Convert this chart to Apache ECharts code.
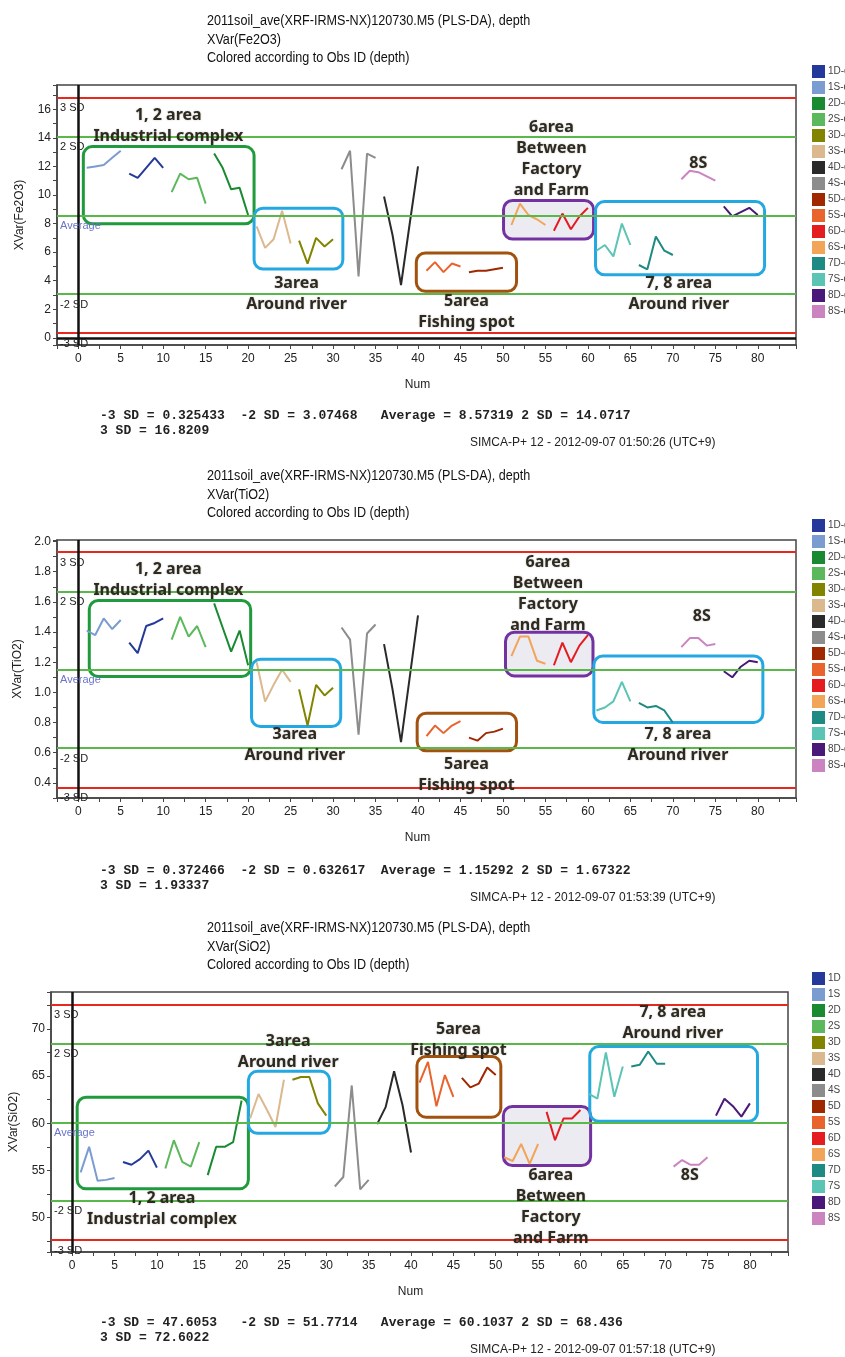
<!DOCTYPE html>
<html>
<head>
<meta charset="utf-8">
<script src="https://cdn.jsdelivr.net/npm/echarts@6/dist/echarts.min.js"></script>
<style>
  html, body { margin: 0; padding: 0; background: #fff; }
  #chart { width: 845px; height: 1357px; }
</style>
</head>
<body>
<div id="chart"></div>
<script>
// observation groups in Num order (5 obs each: 1..80)
const groups = ['1S', '1D', '2S', '2D', '3S', '3D', '4S', '4D', '5S', '5D', '6S', '6D', '7S', '7D', '8S', '8D'];
const legendNames = ['1D', '1S', '2D', '2S', '3D', '3S', '4D', '4S', '5D', '5S', '6D', '6S', '7D', '7S', '8D', '8S'];
const groupColors = {
  '1D': '#24399a', '1S': '#7b9cd0', '2D': '#1a8a32', '2S': '#5cb85c',
  '3D': '#828400', '3S': '#dcb88e', '4D': '#2a2a2a', '4S': '#8c8c8c',
  '5D': '#a02800', '5S': '#e8642c', '6D': '#e41c20', '6S': '#f2a458',
  '7D': '#1e8a84', '7S': '#5cc4b4', '8D': '#4a1878', '8S': '#cc84c0'
};

// one row per group (same order as groups)
const fe2o3 = [
  [11.9, 12.0, 12.1, 12.6, 13.1],
  [11.5, 11.2, 11.9, 12.6, 11.9],
  [10.2, 11.5, 11.1, 11.2, 9.4],
  [12.9, 11.9, 10.4, 10.5, 8.6],
  [7.8, 6.3, 6.9, 8.9, 6.6],
  [6.8, 5.2, 7.0, 6.4, 6.9],
  [11.8, 13.1, 4.3, 12.9, 12.6],
  [9.9, 7.2, 3.7, 7.9, 12.0],
  [4.7, 5.3, 4.6, 5.2, 5.0],
  [4.6, 4.7, 4.7, 4.8, 4.9],
  [7.9, 9.4, 8.6, 8.3, 7.9],
  [7.5, 8.7, 7.6, 8.5, 9.1],
  [6.1, 6.5, 5.7, 8.0, 6.5],
  [5.1, 4.8, 7.1, 6.1, 5.8],
  [11.1, 11.7, 11.6, 11.3, 11.0],
  [9.2, 8.5, 8.8, 9.1, 8.6]
];
const tio2 = [
  [1.41, 1.38, 1.49, 1.42, 1.48],
  [1.33, 1.26, 1.44, 1.46, 1.49],
  [1.35, 1.50, 1.37, 1.44, 1.30],
  [1.59, 1.43, 1.27, 1.41, 1.18],
  [1.20, 0.94, 1.05, 1.15, 1.07],
  [1.02, 0.78, 1.05, 0.98, 1.03],
  [1.43, 1.35, 0.72, 1.39, 1.45],
  [1.32, 1.02, 0.67, 1.09, 1.51],
  [0.71, 0.78, 0.73, 0.78, 0.81],
  [0.70, 0.68, 0.73, 0.74, 0.76],
  [1.24, 1.37, 1.37, 1.21, 1.19],
  [1.18, 1.33, 1.20, 1.31, 1.38],
  [0.88, 0.90, 0.94, 1.07, 0.94],
  [0.93, 0.90, 0.91, 0.88, 0.80],
  [1.30, 1.36, 1.36, 1.31, 1.32],
  [1.14, 1.10, 1.17, 1.21, 1.20]
];
const sio2 = [
  [54.8, 57.5, 53.9, 54.0, 54.2],
  [55.9, 55.6, 56.2, 57.1, 55.3],
  [55.2, 58.2, 55.9, 55.4, 58.0],
  [54.5, 57.5, 57.5, 58.0, 62.4],
  [60.5, 63.1, 61.4, 59.6, 64.6],
  [64.6, 64.9, 64.9, 62.1, 60.8],
  [53.3, 54.3, 64.0, 53.0, 54.0],
  [59.9, 61.7, 65.5, 61.9, 56.9],
  [64.3, 66.5, 61.8, 65.1, 62.8],
  [64.8, 63.8, 64.2, 65.9, 65.1],
  [56.4, 56.0, 57.8, 55.7, 57.8],
  [61.2, 58.2, 60.5, 60.5, 61.4],
  [63.1, 62.6, 67.5, 62.8, 66.0],
  [66.0, 66.2, 67.6, 66.3, 66.3],
  [55.4, 56.1, 55.6, 55.6, 56.4],
  [60.8, 62.6, 61.8, 60.7, 62.1]
];

// -3 SD, -2 SD, Average, 2 SD, 3 SD
const fe2o3Limits = [0.325433, 3.07468, 8.57319, 14.0717, 16.8209];
const tio2Limits = [0.372466, 0.632617, 1.15292, 1.67322, 1.93337];
const sio2Limits = [47.6053, 51.7714, 60.1037, 68.436, 72.6022];

const varNames = ['Fe2O3', 'TiO2', 'SiO2'];
const stamps = ['01:50:26', '01:53:39', '01:57:18'];

const NARROW = '"Liberation Sans Narrow", "Liberation Sans", Arial, sans-serif';
const isStep = (v, s) => Math.abs(v / s - Math.round(v / s)) < 1e-6;

// layout per panel
const panels = [
  { values: fe2o3, limits: fe2o3Limits, grid: { left: 57, top: 85, width: 739, height: 260 },
    yMin: -0.5, yMax: 17.7, yTick: 1, yLab: v => (v >= 0 && isStep(v, 2)) ? String(Math.round(v)) : '',
    zeroLine: true, legendTop: 65, legendCut: true },
  { values: tio2, limits: tio2Limits, grid: { left: 57, top: 540, width: 739, height: 258 },
    yMin: 0.3, yMax: 2.01, yTick: 0.1, yLab: v => (v > 0.35 && isStep(v, 0.2)) ? v.toFixed(1) : '',
    zeroLine: false, legendTop: 519, legendCut: true },
  { values: sio2, limits: sio2Limits, grid: { left: 49, top: 992, width: 739, height: 260 },
    yMin: 46.36, yMax: 73.9, yTick: 2.5, yLab: v => isStep(v, 5) ? String(Math.round(v)) : '',
    zeroLine: false, legendTop: 972, legendCut: false }
];

// hand-drawn annotations, in data coordinates of each panel
const annoBoxes = [
  [
    { x0: 0.6, x1: 20.7, y0: 7.99, y1: 13.39, color: '#1f9a3c' },
    { x0: 20.7, x1: 31.15, y0: 4.82, y1: 9.08, color: '#24a8e2' },
    { x0: 39.8, x1: 51.6, y0: 3.26, y1: 5.94, color: '#a0520e' },
    { x0: 50.07, x1: 60.67, y0: 6.92, y1: 9.62, color: '#7232a0', fill: 'rgba(222,218,232,0.55)' },
    { x0: 60.9, x1: 80.8, y0: 4.42, y1: 9.55, color: '#24a8e2' }
  ],
  [
    { x0: 1.3, x1: 20.3, y0: 1.105, y1: 1.609, color: '#1f9a3c' },
    { x0: 20.4, x1: 30.9, y0: 0.774, y1: 1.219, color: '#24a8e2' },
    { x0: 39.9, x1: 51.6, y0: 0.613, y1: 0.862, color: '#a0520e' },
    { x0: 50.3, x1: 60.6, y0: 1.109, y1: 1.399, color: '#7232a0', fill: 'rgba(222,218,232,0.55)' },
    { x0: 60.7, x1: 80.6, y0: 0.801, y1: 1.241, color: '#24a8e2' }
  ],
  [
    { x0: 0.59, x1: 20.8, y0: 53.05, y1: 62.75, color: '#1f9a3c' },
    { x0: 20.8, x1: 30.4, y0: 58.94, y1: 65.5, color: '#24a8e2' },
    { x0: 40.7, x1: 50.6, y0: 60.64, y1: 67.07, color: '#a0520e' },
    { x0: 50.9, x1: 61.2, y0: 55.52, y1: 61.77, color: '#7232a0', fill: 'rgba(222,218,232,0.55)' },
    { x0: 61.1, x1: 80.9, y0: 60.21, y1: 68.12, color: '#24a8e2' }
  ]
];
const annoTexts = [
  [
    { x: 10.6, y: 14.85, text: '1, 2 area\nIndustrial complex' },
    { x: 25.7, y: 3.06, text: '3area\nAround river' },
    { x: 45.7, y: 1.82, text: '5area\nFishing spot' },
    { x: 55.7, y: 12.5, text: '6area\nBetween\nFactory\nand Farm' },
    { x: 70.7, y: 3.06, text: '7, 8 area\nAround river' },
    { x: 73.0, y: 12.23, text: '8S' }
  ],
  [
    { x: 10.6, y: 1.742, text: '1, 2 area\nIndustrial complex' },
    { x: 25.5, y: 0.652, text: '3area\nAround river' },
    { x: 45.7, y: 0.456, text: '5area\nFishing spot' },
    { x: 55.3, y: 1.650, text: '6area\nBetween\nFactory\nand Farm' },
    { x: 70.6, y: 0.652, text: '7, 8 area\nAround river' },
    { x: 73.4, y: 1.501, text: '8S' }
  ],
  [
    { x: 10.6, y: 50.88, text: '1, 2 area\nIndustrial complex' },
    { x: 25.5, y: 67.52, text: '3area\nAround river' },
    { x: 45.6, y: 68.79, text: '5area\nFishing spot' },
    { x: 56.5, y: 51.12, text: '6area\nBetween\nFactory\nand Farm' },
    { x: 70.9, y: 70.65, text: '7, 8 area\nAround river' },
    { x: 72.9, y: 54.46, text: '8S' }
  ]
];

const chart = echarts.init(document.getElementById('chart'), null, { renderer: 'canvas' });

const grids = [], xAxes = [], yAxes = [], series = [], legends = [], statics = [];

panels.forEach((p, pi) => {
  grids.push(Object.assign({ show: true, borderColor: '#444', borderWidth: 1.5, containLabel: false }, p.grid));

  xAxes.push({
    type: 'value', gridIndex: pi, min: -2.5, max: 84.5, minInterval: 2.5, maxInterval: 2.5,
    name: 'Num', nameLocation: 'middle', nameGap: 34,
    nameTextStyle: { fontSize: 12, color: '#222', fontFamily: NARROW, padding: [0, 18, 0, 0] },
    splitLine: { show: false },
    axisLine: { show: true, onZero: false, lineStyle: { color: '#444', width: 1.5 } },
    axisTick: { show: true, length: 4, lineStyle: { color: '#444' } },
    axisLabel: { fontSize: 12, color: '#222', fontFamily: NARROW, margin: 8,
      formatter: v => (v >= 0 && v <= 80 && isStep(v, 5)) ? String(Math.round(v)) : '' }
  });

  yAxes.push({
    type: 'value', gridIndex: pi, min: p.yMin, max: p.yMax, minInterval: p.yTick, maxInterval: p.yTick,
    name: 'XVar(' + varNames[pi] + ')', nameLocation: 'middle', nameGap: 31,
    nameTextStyle: { fontSize: 12, color: '#222', fontFamily: NARROW },
    splitLine: { show: false },
    axisLine: { show: true, onZero: false, lineStyle: { color: '#444', width: 1.5 } },
    axisTick: { show: true, length: 4, lineStyle: { color: '#444' } },
    axisLabel: { fontSize: 12, color: '#222', fontFamily: NARROW, margin: 6, formatter: p.yLab }
  });

  // SD limit lines and the zero axes
  const lim = p.limits;
  const red = { color: '#e8281c', width: 2, type: 'solid' };
  const green = { color: '#5ab84a', width: 2, type: 'solid' };
  const lab = (t, c) => ({ show: true, formatter: t, position: 'insideStartBottom', distance: [3, 5],
    fontSize: 11, color: c || '#222', fontFamily: NARROW });
  const lines = [
    { yAxis: lim[4], lineStyle: red, label: lab('3 SD') },
    { yAxis: lim[3], lineStyle: green, label: lab('2 SD') },
    { yAxis: lim[2], lineStyle: green, label: lab('Average', '#6a74c8') },
    { yAxis: lim[1], lineStyle: green, label: lab('-2 SD') },
    { yAxis: lim[0], lineStyle: red, label: lab('-3 SD') },
    { xAxis: 0, lineStyle: { color: '#111', width: 2.5, type: 'solid' }, label: { show: false } }
  ];
  if (p.zeroLine) lines.push({ yAxis: 0, lineStyle: { color: '#111', width: 2.5, type: 'solid' }, label: { show: false } });
  series.push({
    type: 'line', xAxisIndex: pi, yAxisIndex: pi, data: [], z: 2, silent: true,
    markLine: { symbol: ['none', 'none'], silent: true, animation: false, data: lines }
  });

  groups.forEach((g, gi) => {
    series.push({
      name: g, type: 'line', xAxisIndex: pi, yAxisIndex: pi, z: 3,
      data: p.values[gi].map((v, k) => [gi * 5 + k + 1, v]),
      showSymbol: false, symbol: 'none',
      itemStyle: { color: groupColors[g] },
      lineStyle: { color: groupColors[g], width: 2 }
    });
  });

  legends.push({
    data: legendNames, orient: 'vertical', left: 812, top: p.legendTop, padding: 0,
    itemWidth: 13, itemHeight: 13, itemGap: 3, icon: 'rect', selectedMode: false,
    formatter: p.legendCut ? (n => n + '-depth') : (n => n),
    textStyle: { fontSize: 10, color: '#444', fontFamily: NARROW, padding: [0, 0, 0, -2] }
  });

  // three-line header, slightly condensed like the SIMCA print
  statics.push({ type: 'text', x: 207, y: p.grid.top - 73, scaleX: 0.9, z: 5,
    style: { text: '2011soil_ave(XRF-IRMS-NX)120730.M5 (PLS-DA), depth\nXVar(' + varNames[pi] + ')\nColored according to Obs ID (depth)',
      font: '14px ' + NARROW, fill: '#111', lineHeight: 18.5, verticalAlign: 'top' } });

  const base = p.grid.top + 338;
  const line1 = ('-3 SD = ' + lim[0]).padEnd(18) + ('-2 SD = ' + lim[1]).padEnd(18) +
    ('Average = ' + lim[2]).padEnd(18) + '2 SD = ' + lim[3];
  statics.push({ type: 'text', x: 100, y: base, z: 5,
    style: { text: line1 + '\n3 SD = ' + lim[4], font: 'bold 13px "Liberation Mono", "DejaVu Sans Mono", monospace',
      fill: '#222', lineHeight: 15, verticalAlign: 'middle' } });
  statics.push({ type: 'text', x: 470, y: base + 20, z: 5,
    style: { text: 'SIMCA-P+ 12 - 2012-09-07 ' + stamps[pi] + ' (UTC+9)', font: '12px ' + NARROW,
      fill: '#222', verticalAlign: 'middle' } });
});

chart.setOption({
  animation: false,
  backgroundColor: '#fff',
  legend: legends,
  grid: grids,
  xAxis: xAxes,
  yAxis: yAxes,
  series: series
});

// annotations placed through the axes' own scales
const anno = [];
panels.forEach((p, pi) => {
  annoBoxes[pi].forEach(b => {
    const a = chart.convertToPixel({ gridIndex: pi }, [b.x0, b.y1]);
    const c = chart.convertToPixel({ gridIndex: pi }, [b.x1, b.y0]);
    anno.push({ type: 'rect', z: 1, silent: true,
      shape: { x: a[0], y: a[1], width: c[0] - a[0], height: c[1] - a[1], r: 9 },
      style: { fill: b.fill || 'none', stroke: b.color, lineWidth: 3 } });
  });
  annoTexts[pi].forEach(t => {
    const c = chart.convertToPixel({ gridIndex: pi }, [t.x, t.y]);
    anno.push({ type: 'text', x: c[0], y: c[1], z: 6, silent: true,
      style: { text: t.text, font: 'bold 16px "Noto Sans", "Open Sans", sans-serif', fill: '#2f2a1f',
        align: 'center', verticalAlign: 'middle', lineHeight: 21,
        textShadowColor: 'rgba(0,0,0,0.25)', textShadowBlur: 2 } });
  });
});

chart.setOption({ graphic: { elements: statics.concat(anno) } });
</script>
</body>
</html>
